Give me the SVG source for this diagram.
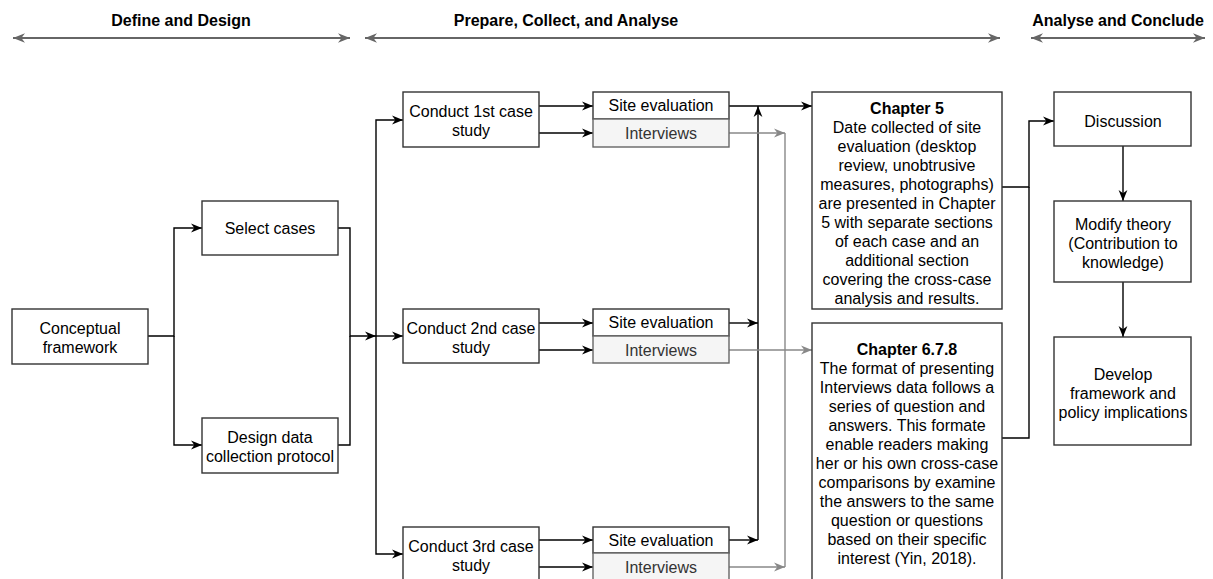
<svg xmlns="http://www.w3.org/2000/svg" width="1213" height="579" viewBox="0 0 1213 579">
  <defs>
    <style>
      text { font-family: "Liberation Sans", Arial, Helvetica, sans-serif; font-size: 16px; fill: #000; text-anchor: middle; }
      .hdr { font-weight: bold; }
      .b { font-weight: bold; }
      .box { fill: #fff; stroke: #333; stroke-width: 1.4; }
      .gbox { fill: #f5f5f5; stroke: #666; stroke-width: 1.4; }
      .gtxt { fill: #333; }
      .line { fill: none; stroke: #000; stroke-width: 1.4; }
      .gline { fill: none; stroke: #888; stroke-width: 1.4; }
      .span { fill: none; stroke: #666; stroke-width: 2; }
    </style>
    <marker id="arr" viewBox="0 0 10 10" markerWidth="11" markerHeight="11" refX="10" refY="5" orient="auto" markerUnits="userSpaceOnUse">
      <path d="M0,1 L10,5 L0,9 L3,5 z" fill="#000"/>
    </marker>
    <marker id="garr" viewBox="0 0 10 10" markerWidth="11" markerHeight="11" refX="10" refY="5" orient="auto" markerUnits="userSpaceOnUse">
      <path d="M0,1 L10,5 L0,9 L3,5 z" fill="#888"/>
    </marker>
    <marker id="sarr" viewBox="0 0 10 10" markerWidth="12" markerHeight="12" refX="10" refY="5" orient="auto-start-reverse" markerUnits="userSpaceOnUse">
      <path d="M0,1 L10,5 L0,9 L3,5 z" fill="#666"/>
    </marker>
  </defs>

  <!-- phase headers -->
  <g id="phases">
    <text class="hdr" x="181" y="26">Define and Design</text>
    <path class="span" d="M13,38 H350" marker-start="url(#sarr)" marker-end="url(#sarr)"/>
    <text class="hdr" x="566" y="26">Prepare, Collect, and Analyse</text>
    <path class="span" d="M365,38 H1000" marker-start="url(#sarr)" marker-end="url(#sarr)"/>
    <text class="hdr" x="1118" y="26">Analyse and Conclude</text>
    <path class="span" d="M1031,38 H1205" marker-start="url(#sarr)" marker-end="url(#sarr)"/>
  </g>

  <!-- connectors -->
  <g id="connectors">
    <path class="line" d="M148,336 H174 V228 H202" marker-end="url(#arr)"/>
    <path class="line" d="M174,336 V445 H202" marker-end="url(#arr)"/>
    <path class="line" d="M338,228 H350 V336 H376" marker-end="url(#arr)"/>
    <path class="line" d="M338,445 H350 V336"/>
    <path class="line" d="M376,336 V120 H403" marker-end="url(#arr)"/>
    <path class="line" d="M376,336 H403" marker-end="url(#arr)"/>
    <path class="line" d="M376,336 V554 H403" marker-end="url(#arr)"/>

    <path class="line" d="M539,106 H593" marker-end="url(#arr)"/>
    <path class="line" d="M539,133 H593" marker-end="url(#arr)"/>
    <path class="line" d="M539,323 H593" marker-end="url(#arr)"/>
    <path class="line" d="M539,350 H593" marker-end="url(#arr)"/>
    <path class="line" d="M539,540 H593" marker-end="url(#arr)"/>
    <path class="line" d="M539,567 H593" marker-end="url(#arr)"/>

    <path class="line" d="M729,106 H812" marker-end="url(#arr)"/>
    <path class="line" d="M729,323 H758" marker-end="url(#arr)"/>
    <path class="line" d="M729,540 H758" marker-end="url(#arr)"/>
    <path class="line" d="M758,540 V106" marker-end="url(#arr)"/>

    <path class="gline" d="M729,133 H785" marker-end="url(#garr)"/>
    <path class="gline" d="M729,567 H785" marker-end="url(#garr)"/>
    <path class="gline" d="M785,133 V567"/>
    <path class="gline" d="M729,350 H812" marker-end="url(#garr)"/>

    <path class="line" d="M1002,187 H1029 V121 H1054" marker-end="url(#arr)"/>
    <path class="line" d="M1002,438 H1029 V187"/>
    <path class="line" d="M1123,146 V201" marker-end="url(#arr)"/>
    <path class="line" d="M1123,282 V337" marker-end="url(#arr)"/>
  </g>

  <g id="conceptual-framework">
    <rect class="box" x="12" y="309" width="136" height="55"/>
    <text x="80" y="334">Conceptual</text>
    <text x="80" y="353">framework</text>
  </g>
  <g id="select-cases">
    <rect class="box" x="202" y="201" width="136" height="54"/>
    <text x="270" y="234">Select cases</text>
  </g>
  <g id="design-protocol">
    <rect class="box" x="202" y="418" width="136" height="55"/>
    <text x="270" y="443">Design data</text>
    <text x="270" y="462">collection protocol</text>
  </g>

  <g id="case-1">
    <rect class="box" x="403" y="92" width="136" height="55"/>
    <text x="471" y="117">Conduct 1st case</text>
    <text x="471" y="136">study</text>
  </g>
  <g id="site-eval-1">
    <rect class="box" x="593" y="92" width="136" height="27"/>
    <text x="661" y="111">Site evaluation</text>
  </g>
  <g id="interviews-1">
    <rect class="gbox" x="593" y="119" width="136" height="28"/>
    <text class="gtxt" x="661" y="139">Interviews</text>
  </g>

  <g id="case-2">
    <rect class="box" x="403" y="309" width="136" height="54"/>
    <text x="471" y="334">Conduct 2nd case</text>
    <text x="471" y="353">study</text>
  </g>
  <g id="site-eval-2">
    <rect class="box" x="593" y="309" width="136" height="27"/>
    <text x="661" y="328">Site evaluation</text>
  </g>
  <g id="interviews-2">
    <rect class="gbox" x="593" y="336" width="136" height="27"/>
    <text class="gtxt" x="661" y="356">Interviews</text>
  </g>

  <g id="case-3">
    <rect class="box" x="403" y="527" width="136" height="55"/>
    <text x="471" y="552">Conduct 3rd case</text>
    <text x="471" y="571">study</text>
  </g>
  <g id="site-eval-3">
    <rect class="box" x="593" y="527" width="136" height="26"/>
    <text x="661" y="546">Site evaluation</text>
  </g>
  <g id="interviews-3">
    <rect class="gbox" x="593" y="553" width="136" height="28"/>
    <text class="gtxt" x="661" y="573">Interviews</text>
  </g>

  <g id="chapter-5">
    <rect class="box" x="812" y="92" width="190" height="217"/>
    <text class="b" x="907" y="114">Chapter 5</text>
    <text x="907" y="133">Date collected of site</text>
    <text x="907" y="152">evaluation (desktop</text>
    <text x="907" y="171">review, unobtrusive</text>
    <text x="907" y="190">measures, photographs)</text>
    <text x="907" y="209">are presented in Chapter</text>
    <text x="907" y="228">5 with separate sections</text>
    <text x="907" y="247">of each case and an</text>
    <text x="907" y="266">additional section</text>
    <text x="907" y="285">covering the cross-case</text>
    <text x="907" y="304">analysis and results.</text>
  </g>

  <g id="chapter-6-7-8">
    <rect class="box" x="812" y="323" width="190" height="270"/>
    <text class="b" x="907" y="355">Chapter 6.7.8</text>
    <text x="907" y="374">The format of presenting</text>
    <text x="907" y="393">Interviews data follows a</text>
    <text x="907" y="412">series of question and</text>
    <text x="907" y="431">answers. This formate</text>
    <text x="907" y="450">enable readers making</text>
    <text x="907" y="469">her or his own cross-case</text>
    <text x="907" y="488">comparisons by examine</text>
    <text x="907" y="507">the answers to the same</text>
    <text x="907" y="526">question or questions</text>
    <text x="907" y="545">based on their specific</text>
    <text x="907" y="564">interest (Yin, 2018).</text>
  </g>

  <g id="discussion">
    <rect class="box" x="1054" y="92" width="137" height="54"/>
    <text x="1123" y="127">Discussion</text>
  </g>
  <g id="modify-theory">
    <rect class="box" x="1054" y="201" width="137" height="81"/>
    <text x="1123" y="230">Modify theory</text>
    <text x="1123" y="249">(Contribution to</text>
    <text x="1123" y="268">knowledge)</text>
  </g>
  <g id="develop-framework">
    <rect class="box" x="1054" y="337" width="137" height="108"/>
    <text x="1123" y="380">Develop</text>
    <text x="1123" y="399">framework and</text>
    <text x="1123" y="418">policy implications</text>
  </g>
</svg>
